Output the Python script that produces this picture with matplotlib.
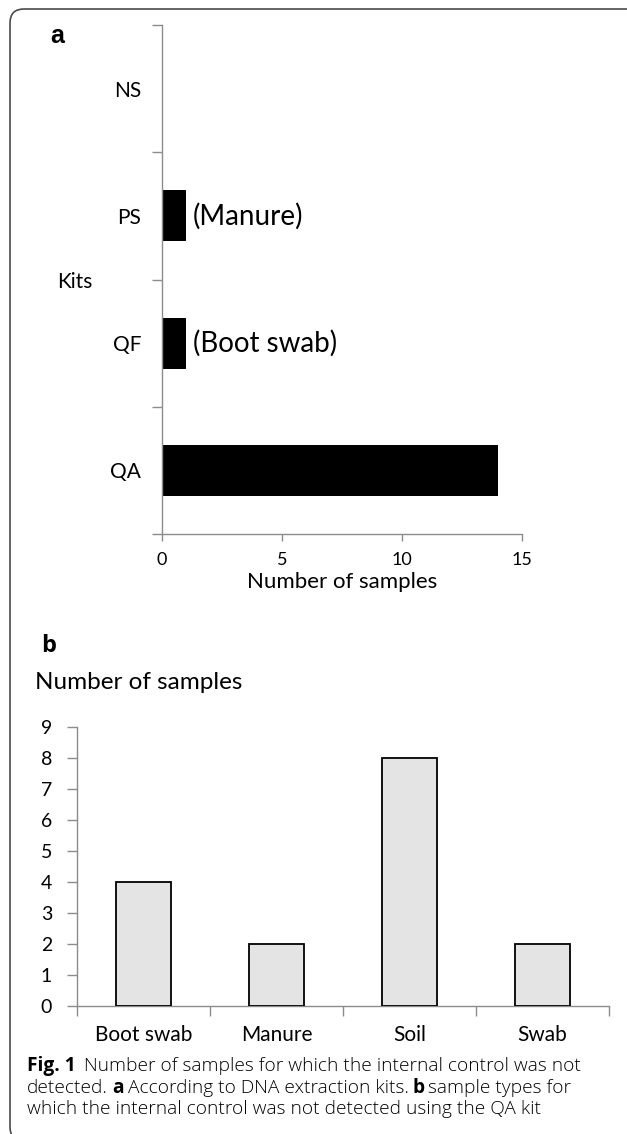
import numpy as np
import matplotlib
matplotlib.use("Agg")
import matplotlib.pyplot as plt
from matplotlib.patches import FancyBboxPatch
from matplotlib.transforms import IdentityTransform

# ── DATA ─────────────────────────────────────────────────────────────────────
kits = ["QA", "QF", "PS", "NS"]
kit_counts = [14, 1, 1, 0]
kit_notes = ["", "(Boot swab)", "(Manure)", ""]
kit_xticks = [0, 5, 10, 15]

sample_types = ["Boot swab", "Manure", "Soil", "Swab"]
type_counts = [4, 2, 8, 2]
type_yticks = list(range(0, 10))

caption_lines = [
    [("Fig. 1", True), ("  Number of samples for which the internal control was not", False)],
    [("detected. ", False), ("a", True), (" According to DNA extraction kits. ", False),
     ("b", True), (" sample types for", False)],
    [("which the internal control was not detected using the QA kit", False)],
]

# ── STYLE ────────────────────────────────────────────────────────────────────
W, H = 627, 1134
AXIS_GREY = "#8c8c8c"
CHART_FONT = ["Lato", "DejaVu Sans"]
CAPTION_FONT = ["Open Sans", "DejaVu Sans"]

plt.rcParams["font.family"] = CHART_FONT


def fx(x):
    return x / W


def fy(y):
    return 1 - y / H


def style_axes(ax):
    for side in ("top", "right"):
        ax.spines[side].set_visible(False)
    for side in ("left", "bottom"):
        ax.spines[side].set_color(AXIS_GREY)
        ax.spines[side].set_linewidth(1.0)
    ax.tick_params(which="both", colors=AXIS_GREY, labelcolor="black", width=1.0)


fig = plt.figure(figsize=(W / 100, H / 100), dpi=100)

# rounded frame (right side runs off the picture)
frame = FancyBboxPatch((10, H - 1141), 700, 1132,
                       boxstyle="round,pad=0,rounding_size=14",
                       transform=IdentityTransform(),
                       facecolor="none", edgecolor="#4a4a4a", linewidth=1.2)
fig.add_artist(frame)

# ── PANEL a ──────────────────────────────────────────────────────────────────
ax_a = fig.add_axes([fx(162), fy(534), fx(360), 509 / H])
ypos = np.arange(len(kits))
bars_a = ax_a.barh(ypos, kit_counts, height=0.4, color="black")
ax_a.bar_label(bars_a, labels=kit_notes, padding=5, fontsize=20)
ax_a.set_xlim(0, 15)
ax_a.set_ylim(-0.5, len(kits) - 0.5)
ax_a.set_xticks(kit_xticks)
ax_a.set_yticks(np.arange(-0.5, len(kits)), [])
ax_a.set_yticks(ypos, kits, minor=True)
style_axes(ax_a)
ax_a.tick_params(axis="y", which="major", length=7)
ax_a.tick_params(axis="y", which="minor", length=0, pad=15, labelsize=15)
ax_a.tick_params(axis="x", length=5, pad=8, labelsize=13)
ax_a.set_xlabel("Number of samples", fontsize=16, labelpad=3)
ax_a.set_ylabel("Kits", fontsize=15, rotation=0, ha="left", va="center")
ax_a.yaxis.set_label_coords((57 - 162) / 360, (534 - 282) / 509)

fig.text(fx(50), fy(43), "a", fontsize=18, fontweight="bold",
         family=["Liberation Sans", "DejaVu Sans"], va="baseline")

# ── PANEL b ──────────────────────────────────────────────────────────────────
ax_b = fig.add_axes([fx(77), fy(1006), fx(532), 279 / H])
xpos = np.arange(len(sample_types))
ax_b.bar(xpos, type_counts, width=0.41, facecolor="#e4e4e4",
         edgecolor="black", linewidth=1.3, zorder=3)
ax_b.set_ylim(0, 9)
ax_b.set_xlim(-0.5, len(sample_types) - 0.5)
ax_b.set_yticks(type_yticks)
ax_b.set_xticks(np.arange(-0.5, len(sample_types)), [])
ax_b.set_xticks(xpos, sample_types, minor=True)
style_axes(ax_b)
ax_b.tick_params(axis="y", length=7, pad=11, labelsize=14)
ax_b.tick_params(axis="x", which="major", length=7)
ax_b.tick_params(axis="x", which="minor", length=0, pad=14, labelsize=15)

fig.text(fx(41), fy(652), "b", fontsize=17, fontweight="bold",
         family=CAPTION_FONT, va="baseline")
fig.text(fx(35), fy(689), "Number of samples", fontsize=17.5, va="baseline")

# ── CAPTION ──────────────────────────────────────────────────────────────────
renderer = fig.canvas.get_renderer()
CAP_SIZE = 13.8


def cap_weight(bold):
    return "bold" if bold else "light"


def text_width(s, bold):
    t = fig.text(0, 0, s, fontsize=CAP_SIZE, family=CAPTION_FONT,
                 fontweight=cap_weight(bold))
    w = t.get_window_extent(renderer).width
    t.remove()
    return w


# glyph boxes are ink-tight, so a bare space gap looks a bit wide
space_w = 0.8 * (text_width("a a", False) - text_width("aa", False))

baselines = [1071, 1093, 1114]
for line, yb in zip(caption_lines, baselines):
    x = 27
    for txt, bold in line:
        lead = len(txt) - len(txt.lstrip(" "))
        trail = len(txt) - len(txt.rstrip(" "))
        core = txt.strip(" ")
        x += lead * space_w
        t = fig.text(fx(x), fy(yb), core, fontsize=CAP_SIZE, family=CAPTION_FONT,
                     fontweight=cap_weight(bold), va="baseline")
        x += t.get_window_extent(renderer).width + trail * space_w

fig.savefig("out.png", dpi=100)
